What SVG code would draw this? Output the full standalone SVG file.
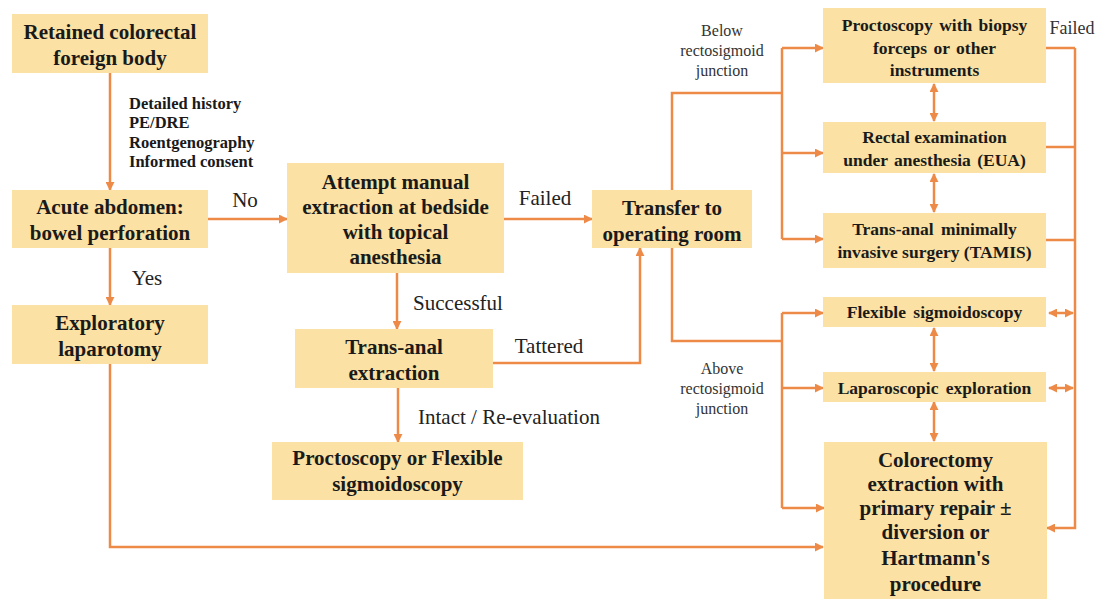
<svg xmlns="http://www.w3.org/2000/svg" width="1097" height="599" viewBox="0 0 1097 599">
<defs>
<style>
.box{fill:#FBE1A3;}
text{font-family:'Liberation Serif','DejaVu Serif',serif;}
.t{font-weight:bold;font-size:21px;fill:#1a1a1a;text-anchor:middle;}
.s{font-weight:bold;font-size:17.5px;fill:#1a1a1a;text-anchor:middle;}
.n{font-weight:bold;font-size:16.5px;fill:#1a1a1a;}
.l{font-size:21px;fill:#222;text-anchor:middle;}
.j{font-size:16px;fill:#333;text-anchor:middle;}
.c{fill:none;stroke:#EE8A47;stroke-width:2.5;}
.a{marker-end:url(#ah);}
.d{marker-start:url(#ah);marker-end:url(#ah);}
</style>
<marker id="ah" viewBox="0 0 10 10" refX="9" refY="5" markerWidth="3.6" markerHeight="3.6" orient="auto-start-reverse" markerUnits="strokeWidth">
<path d="M0,0 L10,5 L0,10 z" fill="#EE8A47"/>
</marker>
</defs>
<rect width="1097" height="599" fill="#ffffff"/>

<g id="connectors">
<path class="c a" d="M110 73 V190"/>
<path class="c a" d="M208 219 H287"/>
<path class="c a" d="M110 248 V305"/>
<path class="c a" d="M110 363 V547 H823"/>
<path class="c a" d="M504 219 H592"/>
<path class="c a" d="M397 273 V329"/>
<path class="c a" d="M493 363 H640 V248"/>
<path class="c a" d="M398 388 V442"/>
<path class="c" d="M672 190 V93 H782"/>
<path class="c" d="M782 48 V239"/>
<path class="c a" d="M782 48 H823"/>
<path class="c a" d="M782 153 H823"/>
<path class="c a" d="M782 239 H823"/>
<path class="c" d="M672 248 V341 H782"/>
<path class="c" d="M782 313 V508"/>
<path class="c a" d="M782 313 H823"/>
<path class="c a" d="M782 388 H823"/>
<path class="c a" d="M782 508 H824"/>
<path class="c d" d="M934 84 V121"/>
<path class="c d" d="M934 174 V212"/>
<path class="c d" d="M934 328 V371"/>
<path class="c d" d="M934 402 V441"/>
<path class="c" d="M1046 48 H1075 M1046 147 H1075 M1046 240 H1075"/>
<path class="c a" d="M1075 48 V528 H1047"/>
<path class="c d" d="M1049 313 H1073"/>
<path class="c d" d="M1049 388 H1073"/>
</g>

<g id="labels">
<text class="n" x="129" y="109">Detailed history</text>
<text class="n" x="129" y="128">PE/DRE</text>
<text class="n" x="129" y="148">Roentgenography</text>
<text class="n" x="129" y="167">Informed consent</text>
<text class="l" x="245" y="207">No</text>
<text class="l" x="147" y="285">Yes</text>
<text class="l" x="545" y="205">Failed</text>
<text class="l" x="458" y="310">Successful</text>
<text class="l" x="549" y="353">Tattered</text>
<text class="l" x="509" y="424">Intact / Re-evaluation</text>
<text class="j" x="722" y="36">Below</text>
<text class="j" x="722" y="56">rectosigmoid</text>
<text class="j" x="722" y="76">junction</text>
<text class="j" x="722" y="374">Above</text>
<text class="j" x="722" y="394">rectosigmoid</text>
<text class="j" x="722" y="414">junction</text>
<text class="j" x="1072" y="34" style="font-size:18px">Failed</text>
</g>

<g id="n1"><rect class="box" x="12" y="14" width="196" height="59"/>
<text class="t" x="110" y="39">Retained colorectal</text><text class="t" x="110" y="65">foreign body</text></g>

<g id="n2"><rect class="box" x="12" y="190" width="196" height="58"/>
<text class="t" x="110" y="214">Acute abdomen:</text><text class="t" x="110" y="240">bowel perforation</text></g>

<g id="n3"><rect class="box" x="12" y="305" width="196" height="59"/>
<text class="t" x="110" y="330">Exploratory</text><text class="t" x="110" y="356">laparotomy</text></g>

<g id="n4"><rect class="box" x="287" y="163" width="217" height="110"/>
<text class="t" x="395.5" y="189">Attempt manual</text><text class="t" x="395.5" y="214">extraction at bedside</text><text class="t" x="395.5" y="239">with topical</text><text class="t" x="395.5" y="264">anesthesia</text></g>

<g id="n5"><rect class="box" x="295" y="329" width="198" height="59"/>
<text class="t" x="394" y="354">Trans-anal</text><text class="t" x="394" y="380">extraction</text></g>

<g id="n6"><rect class="box" x="272" y="442" width="251" height="58"/>
<text class="t" x="397.5" y="465">Proctoscopy or Flexible</text><text class="t" x="397.5" y="491">sigmoidoscopy</text></g>

<g id="n7"><rect class="box" x="592" y="190" width="160" height="58"/>
<text class="t" x="672" y="215">Transfer to</text><text class="t" x="672" y="241">operating room</text></g>

<g id="n8"><rect class="box" x="823" y="8" width="223" height="75"/>
<text class="s" x="934.5" y="31" word-spacing="2">Proctoscopy with biopsy</text><text class="s" x="934.5" y="54" word-spacing="2">forceps or other</text><text class="s" x="934.5" y="76">instruments</text></g>

<g id="n9"><rect class="box" x="823" y="122" width="223" height="51"/>
<text class="s" x="934.5" y="143">Rectal examination</text><text class="s" x="934.5" y="166" word-spacing="2">under anesthesia (EUA)</text></g>

<g id="n10"><rect class="box" x="823" y="213" width="223" height="55"/>
<text class="s" x="934.5" y="235" word-spacing="3">Trans-anal minimally</text><text class="s" x="934.5" y="258">invasive surgery (TAMIS)</text></g>

<g id="n11"><rect class="box" x="823" y="297" width="223" height="30"/>
<text class="s" x="934.5" y="318" word-spacing="3">Flexible sigmoidoscopy</text></g>

<g id="n12"><rect class="box" x="823" y="372" width="223" height="30"/>
<text class="s" x="934.5" y="394" word-spacing="3">Laparoscopic exploration</text></g>

<g id="n13"><rect class="box" x="824" y="442" width="223" height="160"/>
<text class="t" x="935.5" y="467">Colorectomy</text><text class="t" x="935.5" y="491">extraction with</text><text class="t" x="935.5" y="515">primary repair ±</text><text class="t" x="935.5" y="539">diversion or</text><text class="t" x="935.5" y="565">Hartmann's</text><text class="t" x="935.5" y="591">procedure</text></g>
</svg>
